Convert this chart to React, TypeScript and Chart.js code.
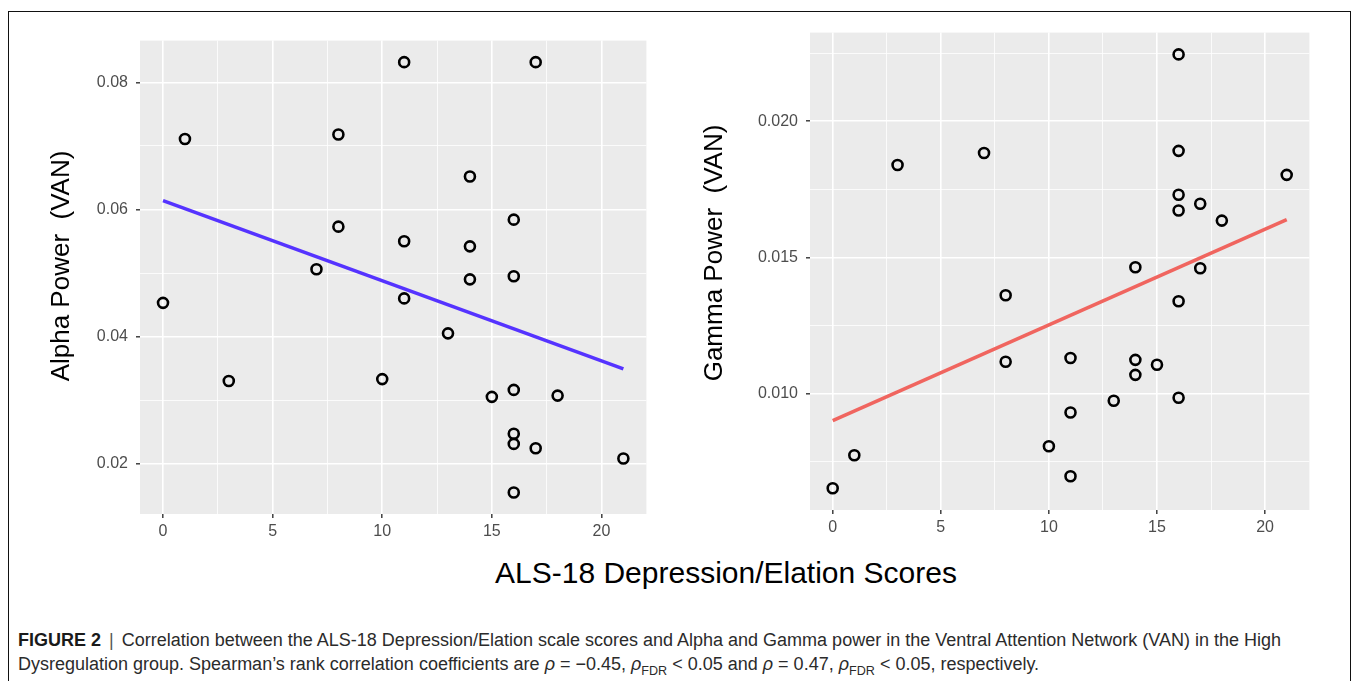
import React, { useEffect, useRef } from "react";
import { Chart, registerables } from "chart.js";

Chart.register(...registerables);

// ---------- data ----------
const alphaScores = [0, 1, 3, 7, 8, 8, 10, 11, 11, 11, 13, 14, 14, 14, 15, 16, 16, 16, 16, 16, 16, 17, 17, 18, 21];
const alphaPower = [0.0453, 0.0711, 0.033, 0.0506, 0.0718, 0.0573, 0.0333, 0.0832, 0.055, 0.046, 0.0405, 0.0652, 0.0542, 0.049, 0.0305, 0.0584, 0.0495, 0.0316, 0.0247, 0.0231, 0.01545, 0.0832, 0.0224, 0.0307, 0.0208];

const gammaScores = [0, 1, 3, 7, 8, 8, 10, 11, 11, 11, 13, 14, 14, 14, 15, 16, 16, 16, 16, 16, 16, 17, 17, 18, 21];
const gammaPower = [0.00653, 0.00774, 0.01839, 0.01883, 0.01361, 0.01117, 0.00807, 0.01131, 0.00931, 0.00697, 0.00974, 0.01464, 0.01124, 0.01069, 0.01106, 0.02245, 0.01891, 0.0173, 0.01672, 0.01339, 0.00985, 0.01697, 0.0146, 0.01635, 0.01803];

const fitScores = [0, 21];
const alphaFit = [0.0614, 0.0349];
const gammaFit = [0.00901, 0.01639];

const xRange = [-1.05, 22.05];
const alphaRange = [0.01206, 0.08659];
const gammaRange = [0.00573, 0.02325];

const xMajorTicks = [0, 5, 10, 15, 20];
const xMinorTicks = [2.5, 7.5, 12.5, 17.5];
const xTickLabels = ["0", "5", "10", "15", "20"];

const alphaMajorTicks = [0.02, 0.04, 0.06, 0.08];
const alphaMinorTicks = [0.03, 0.05, 0.07];
const alphaTickLabels = ["0.02", "0.04", "0.06", "0.08"];

const gammaMajorTicks = [0.01, 0.015, 0.02];
const gammaMinorTicks = [0.0075, 0.0125, 0.0175, 0.0225];
const gammaTickLabels = ["0.010", "0.015", "0.020"];

const xTitle = "ALS-18 Depression/Elation Scores";
const alphaTitle = "Alpha Power  (VAN)";
const gammaTitle = "Gamma Power  (VAN)";

// ---------- helpers ----------
const FONT = "'Liberation Sans', Arial, Helvetica, sans-serif";

const near = (a: number, b: number) => Math.abs(a - b) < 1e-9;
const isIn = (list: number[], v: number) => list.some((m) => near(m, v));
const labelFor = (majors: number[], labels: string[], v: number) => {
  const i = majors.findIndex((m) => near(m, v));
  return i >= 0 ? labels[i] : "";
};

const panelBg = {
  id: "panelBg",
  beforeDraw(chart: any) {
    const { ctx, chartArea } = chart;
    ctx.save();
    ctx.fillStyle = "#EBEBEB";
    ctx.fillRect(chartArea.left, chartArea.top, chartArea.right - chartArea.left, chartArea.bottom - chartArea.top);
    ctx.restore();
  },
};

const yTitlePlugin = {
  id: "yTitle",
  afterDraw(chart: any, _args: any, opts: any) {
    if (!opts || !opts.text) return;
    const { ctx } = chart;
    ctx.save();
    ctx.translate(opts.x, opts.y);
    ctx.rotate(-Math.PI / 2);
    ctx.fillStyle = "#000";
    ctx.font = `26px ${FONT}`;
    ctx.textAlign = "center";
    ctx.textBaseline = "middle";
    ctx.fillText(opts.text, 0, 0);
    ctx.restore();
  },
};

type PanelProps = {
  left: number;
  top: number;
  width: number;
  height: number;
  yWidth: number;
  scores: number[];
  power: number[];
  fit: number[];
  fitColor: string;
  yRange: number[];
  yMajor: number[];
  yMinor: number[];
  yLabels: string[];
  title: string;
  titleX: number;
  titleY: number;
};

function Panel(p: PanelProps) {
  const ref = useRef<HTMLCanvasElement | null>(null);

  useEffect(() => {
    if (!ref.current) return;
    const points = p.scores.map((x, i) => ({ x, y: p.power[i] }));
    const line = p.fit.map((y, i) => ({ x: fitScores[i], y }));
    const xAll = [...xMajorTicks, ...xMinorTicks].sort((a, b) => a - b);
    const yAll = [...p.yMajor, ...p.yMinor].sort((a, b) => a - b);

    const gridWidth = (list: number[]) => (c: any) => (c.tick && isIn(list, c.tick.value) ? 1.6 : 0.8);
    const tickColor = (list: number[]) => (c: any) => (c.tick && isIn(list, c.tick.value) ? "#333333" : "rgba(0,0,0,0)");

    const chart = new Chart(ref.current, {
      type: "scatter",
      data: {
        datasets: [
          {
            type: "line",
            data: line,
            borderColor: p.fitColor,
            borderWidth: 3.6,
            pointRadius: 0,
            fill: false,
            tension: 0,
          } as any,
          {
            data: points,
            pointRadius: 5,
            pointBorderWidth: 2.6,
            pointBorderColor: "#000000",
            pointBackgroundColor: "rgba(0,0,0,0)",
            borderColor: "#000000",
            backgroundColor: "rgba(0,0,0,0)",
            pointHoverRadius: 5,
          },
        ],
      },
      options: {
        animation: false,
        responsive: false,
        devicePixelRatio: 1,
        events: [],
        layout: { padding: { top: 10, right: 5, bottom: 0, left: 0 } },
        plugins: {
          legend: { display: false },
          tooltip: { enabled: false },
          yTitle: { text: p.title, x: p.titleX, y: p.titleY },
        } as any,
        scales: {
          x: {
            type: "linear",
            min: xRange[0],
            max: xRange[1],
            afterBuildTicks: (s: any) => {
              s.ticks = xAll.map((v) => ({ value: v }));
            },
            afterFit: (s: any) => {
              s.height = 30;
            },
            grid: {
              color: "#FFFFFF",
              lineWidth: gridWidth(xMajorTicks),
              tickColor: tickColor(xMajorTicks),
              tickLength: 4,
              tickWidth: 1.4,
            },
            border: { display: false },
            ticks: {
              autoSkip: false,
              maxRotation: 0,
              padding: 4,
              color: "#4D4D4D",
              font: { family: FONT, size: 16 },
              callback: (v: any) => labelFor(xMajorTicks, xTickLabels, Number(v)),
            },
          },
          y: {
            type: "linear",
            min: p.yRange[0],
            max: p.yRange[1],
            afterBuildTicks: (s: any) => {
              s.ticks = yAll.map((v) => ({ value: v }));
            },
            afterFit: (s: any) => {
              s.width = p.yWidth;
            },
            grid: {
              color: "#FFFFFF",
              lineWidth: gridWidth(p.yMajor),
              tickColor: tickColor(p.yMajor),
              tickLength: 4,
              tickWidth: 1.4,
            },
            border: { display: false },
            ticks: {
              autoSkip: false,
              padding: 8,
              color: "#4D4D4D",
              font: { family: FONT, size: 16 },
              callback: (v: any) => labelFor(p.yMajor, p.yLabels, Number(v)),
            },
          },
        },
      },
      plugins: [panelBg, yTitlePlugin],
    } as any);

    return () => chart.destroy();
  }, []);

  return (
    <canvas
      ref={ref}
      width={p.width}
      height={p.height}
      style={{ position: "absolute", left: p.left, top: p.top, width: p.width, height: p.height }}
    />
  );
}

export default function App() {
  return (
    <div style={{ position: "absolute", left: 0, top: 0, width: 1355, height: 681, overflow: "hidden", background: "#fff" }}>
      <div
        style={{
          position: "absolute",
          left: 8,
          top: 11,
          width: 1343,
          height: 670,
          borderTop: "1px solid #111",
          borderLeft: "1px solid #111",
          borderRight: "1px solid #111",
          boxSizing: "border-box",
        }}
      />
      <Panel
        left={40}
        top={23}
        width={614}
        height={521}
        yWidth={100}
        scores={alphaScores}
        power={alphaPower}
        fit={alphaFit}
        fitColor="#5533FF"
        yRange={alphaRange}
        yMajor={alphaMajorTicks}
        yMinor={alphaMinorTicks}
        yLabels={alphaTickLabels}
        title={alphaTitle}
        titleX={22}
        titleY={243}
      />
      <Panel
        left={700}
        top={15}
        width={617}
        height={525}
        yWidth={110}
        scores={gammaScores}
        power={gammaPower}
        fit={gammaFit}
        fitColor="#F0655F"
        yRange={gammaRange}
        yMajor={gammaMajorTicks}
        yMinor={gammaMinorTicks}
        yLabels={gammaTickLabels}
        title={gammaTitle}
        titleX={15}
        titleY={238}
      />
      <div
        style={{
          position: "absolute",
          left: 426,
          top: 555,
          width: 600,
          lineHeight: "36px",
          textAlign: "center",
          fontFamily: FONT,
          fontSize: 30,
          color: "#000",
          whiteSpace: "nowrap",
        }}
      >
        {xTitle}
      </div>
      <div
        style={{
          position: "absolute",
          left: 18,
          top: 628,
          fontFamily: FONT,
          fontSize: 18,
          lineHeight: "24px",
          color: "#2b2b2b",
          whiteSpace: "nowrap",
        }}
      >
        <span style={{ fontWeight: "bold", color: "#1a1a1a" }}>FIGURE 2</span>
        <span style={{ color: "#555", margin: "0 8px" }}>|</span>
        Correlation between the ALS-18 Depression/Elation scale scores and Alpha and Gamma power in the Ventral Attention Network (VAN) in the High
        <br />
        Dysregulation group. Spearman’s rank correlation coefficients are <i>ρ</i> = −0.45, <i>ρ</i>
        <sub style={{ fontSize: "0.7em", lineHeight: 0 }}>FDR</sub> &lt; 0.05 and <i>ρ</i> = 0.47, <i>ρ</i>
        <sub style={{ fontSize: "0.7em", lineHeight: 0 }}>FDR</sub> &lt; 0.05, respectively.
      </div>
    </div>
  );
}
